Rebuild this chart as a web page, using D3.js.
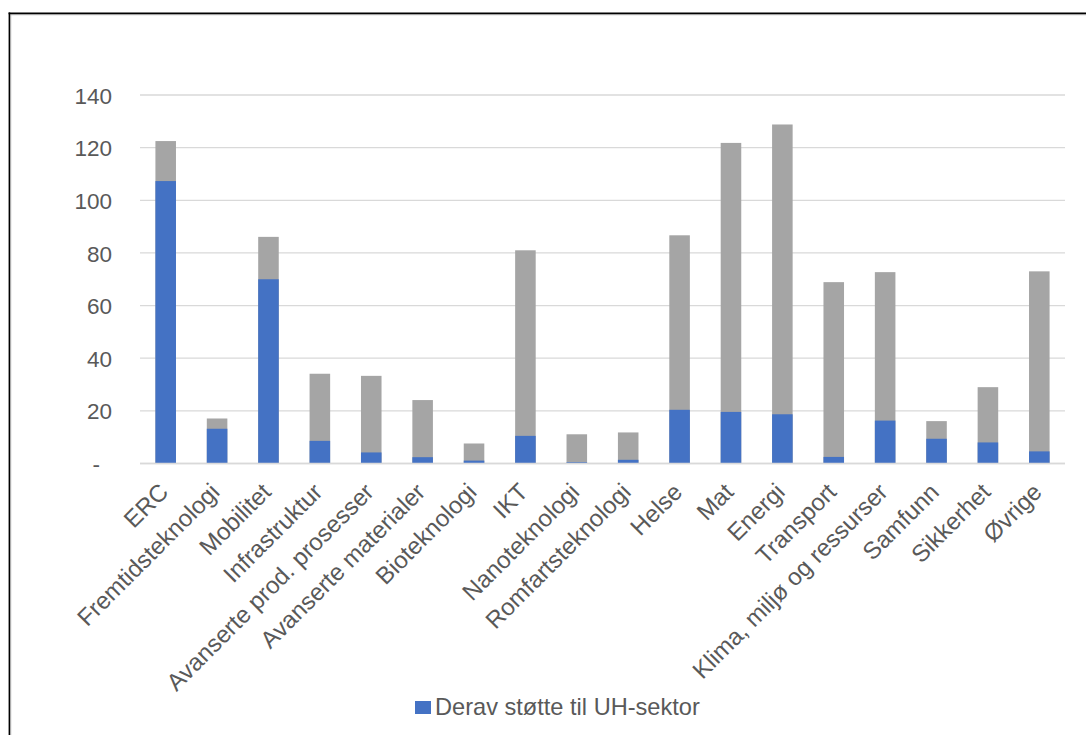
<!DOCTYPE html>
<html>
<head>
<meta charset="utf-8">
<script src="https://cdn.jsdelivr.net/npm/d3@7"></script>
<style>
html,body{margin:0;padding:0;background:#fff;}
svg{display:block;font-family:"Liberation Sans",Arial,sans-serif;}
</style>
</head>
<body>
<svg id="chart" width="1086" height="735"></svg>
<script>
const categories = ["ERC","Fremtidsteknologi","Mobilitet","Infrastruktur","Avanserte prod. prosesser","Avanserte materialer","Bioteknologi","IKT","Nanoteknologi","Romfartsteknologi","Helse","Mat","Energi","Transport","Klima, miljø og ressurser","Samfunn","Sikkerhet","Øvrige"];
const totalValues = [122.5,17.1,86.1,34.1,33.3,24.1,7.6,81.0,11.1,11.8,86.7,121.8,128.8,68.9,72.7,16.1,29.0,73.0];
const uhValues = [107.3,13.2,70.0,8.6,4.2,2.4,1.1,10.5,0.5,1.4,20.4,19.6,18.7,2.5,16.3,9.4,8.0,4.6];
const yTicks = [0,20,40,60,80,100,120,140];
const legendLabel = "Derav støtte til UH-sektor";

const svg = d3.select("#chart");
const yFontSize = 22.5;
const xFontSize = 24;
const legendFontSize = 23.6;
const textColor = "#595959";

// frame
svg.append("line").attr("x1",10.3).attr("x2",1086).attr("y1",14.8).attr("y2",14.8).attr("stroke","#c8c8c8").attr("stroke-width",1);
svg.append("line").attr("x1",10.8).attr("x2",10.8).attr("y1",14.3).attr("y2",735).attr("stroke","#c8c8c8").attr("stroke-width",1);
svg.append("line").attr("x1",8.6).attr("x2",1086).attr("y1",13.4).attr("y2",13.4).attr("stroke","#000").attr("stroke-width",1.6);
svg.append("line").attr("x1",9.4).attr("x2",9.4).attr("y1",12.6).attr("y2",735).attr("stroke","#000").attr("stroke-width",1.6);

const x = d3.scaleBand().domain(categories).range([140,1065]).paddingInner(0.6).paddingOuter(0.3);
const y = d3.scaleLinear().domain([0,140]).range([463.5,95]);

// gridlines
svg.append("g").selectAll("line").data(yTicks).join("line")
  .attr("x1",140).attr("x2",1065)
  .attr("y1",d=>y(d)).attr("y2",d=>y(d))
  .attr("stroke","#d9d9d9").attr("stroke-width",1.3);

// y axis labels
const yAxis = d3.axisLeft(y).tickValues(yTicks).tickSize(0).tickPadding(0)
  .tickFormat(d => d===0 ? "-" : d3.format("d")(d));
const gy = svg.append("g").attr("transform","translate(112,0)").call(yAxis);
gy.select(".domain").remove();
gy.selectAll("text").attr("fill",textColor).style("font-size",yFontSize+"px")
  .attr("font-family","Liberation Sans, Arial, sans-serif")
  .attr("dy","0.36em")
  .attr("x",d=>d===0?-12:0);

// bars
const data = categories.map((c,i)=>({c, total: totalValues[i], uh: uhValues[i]}));
svg.append("g").selectAll("rect").data(data).join("rect")
  .attr("x",d=>x(d.c)).attr("width",x.bandwidth())
  .attr("y",d=>y(d.total)).attr("height",d=>y(0)-y(d.total))
  .attr("fill","#a5a5a5");
svg.append("g").selectAll("rect").data(data).join("rect")
  .attr("x",d=>x(d.c)).attr("width",x.bandwidth())
  .attr("y",d=>y(d.uh)).attr("height",d=>y(0)-y(d.uh))
  .attr("fill","#4472c4");

// baseline
svg.append("line").attr("x1",140).attr("x2",1065).attr("y1",y(0)).attr("y2",y(0))
  .attr("stroke","#d9d9d9").attr("stroke-width",1.3);

// x axis labels
const xAxis = d3.axisBottom(x).tickSize(0).tickPadding(0);
const gx = svg.append("g").attr("transform",`translate(0,${y(0)})`).call(xAxis);
gx.select(".domain").remove();
gx.selectAll("text")
  .attr("fill",textColor).style("font-size",xFontSize+"px")
  .attr("font-family","Liberation Sans, Arial, sans-serif")
  .attr("text-anchor","end")
  .attr("dy",null).attr("y",null)
  .attr("transform","translate(4,30) rotate(-45)");

// legend
const lg = svg.append("g");
lg.append("rect").attr("x",415).attr("y",701).attr("width",16).attr("height",13).attr("fill","#4472c4");
lg.append("text").attr("x",435).attr("y",715).attr("fill",textColor)
  .style("font-size",legendFontSize+"px").text(legendLabel);
</script>
</body>
</html>
